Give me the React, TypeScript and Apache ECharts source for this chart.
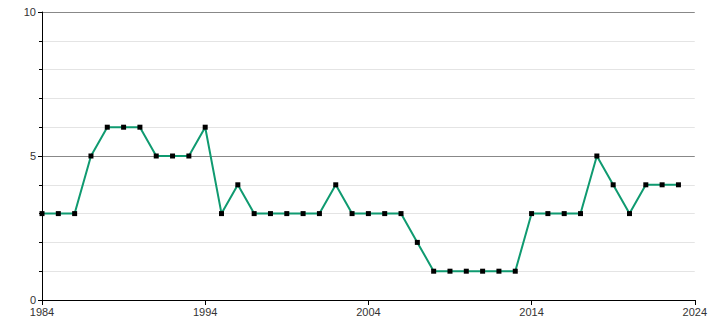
import React, { useEffect, useRef } from "react";
import * as echarts from "echarts";

const years = [
  1984, 1985, 1986, 1987, 1988, 1989, 1990, 1991, 1992, 1993,
  1994, 1995, 1996, 1997, 1998, 1999, 2000, 2001, 2002, 2003,
  2004, 2005, 2006, 2007, 2008, 2009, 2010, 2011, 2012, 2013,
  2014, 2015, 2016, 2017, 2018, 2019, 2020, 2021, 2022, 2023,
];
const values = [
  3, 3, 3, 5, 6, 6, 6, 5, 5, 5,
  6, 3, 4, 3, 3, 3, 3, 3, 4, 3,
  3, 3, 3, 2, 1, 1, 1, 1, 1, 1,
  3, 3, 3, 3, 5, 4, 3, 4, 4, 4,
];

export default function App() {
  const ref = useRef<HTMLDivElement>(null);
  useEffect(() => {
    if (!ref.current) return;
    document.body.style.margin = "0";
    const chart = echarts.init(ref.current, undefined, { renderer: "svg", width: 710, height: 320 });
    const font = { fontFamily: "Liberation Sans, Arial, sans-serif", fontSize: 11, color: "#333" };
    chart.setOption({
      animation: false,
      grid: { left: 42, right: 11, top: 12, bottom: 20, containLabel: false },
      xAxis: {
        type: "value",
        min: 1984,
        max: 2024,
        interval: 10,
        axisLine: { show: true, lineStyle: { color: "#000", width: 1 } },
        axisTick: { show: true, length: 5, lineStyle: { color: "#000" } },
        axisLabel: { ...font, margin: 6, formatter: (v: number) => String(v) },
        splitLine: { show: false },
      },
      yAxis: {
        type: "value",
        min: 0,
        max: 10,
        interval: 5,
        axisLine: { show: true, lineStyle: { color: "#000", width: 1 } },
        axisTick: { show: true, length: 4, lineStyle: { color: "#000" } },
        minorTick: { show: true, splitNumber: 5, length: 3, lineStyle: { color: "#000" } },
        axisLabel: { ...font, margin: 6 },
        splitLine: { show: true, lineStyle: { color: "#888", width: 1 } },
        minorSplitLine: { show: true, lineStyle: { color: "#e4e4e4", width: 1 } },
      },
      series: [
        {
          type: "line",
          data: years.map((y, i) => [y, values[i]]),
          symbol: "rect",
          symbolSize: 5,
          itemStyle: { color: "#000" },
          lineStyle: { color: "#0f9a70", width: 2 },
          z: 3,
        },
      ],
    });
    return () => chart.dispose();
  }, []);
  return <div ref={ref} style={{ width: 710, height: 320 }} />;
}
